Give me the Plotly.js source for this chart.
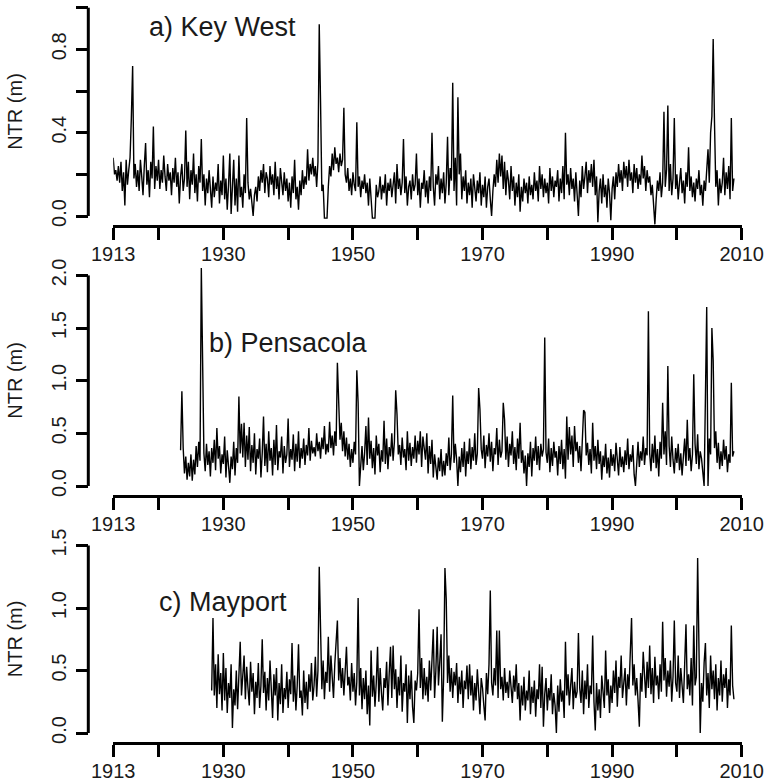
<!DOCTYPE html>
<html>
<head>
<meta charset="utf-8">
<script src="https://cdn.plot.ly/plotly-3.0.1.min.js"></script>
<style>html,body{margin:0;padding:0;background:#fff;}#chart{width:766px;height:782px;}</style>
</head>
<body>
<div id="chart"></div>
<script>
// ---------------- DATA (NTR in metres, one value every 0.2 yr) ----------------
const sampleStep = 0.2;
const keyWestStart = 1913.0;
const keyWest = [
0.28,0.20,0.22,0.17,0.24, 0.16,0.26,0.12,0.21,0.05, 0.27,0.15,0.22,0.28,0.47, 0.72,0.18,0.25,0.14,0.22,
0.12,0.27,0.19,0.10,0.24, 0.35,0.15,0.22,0.09,0.26, 0.18,0.43,0.13,0.24,0.17, 0.27,0.13,0.22,0.16,0.29,
0.19,0.12,0.25,0.17,0.21, 0.10,0.23,0.16,0.28,0.14, 0.21,0.06,0.19,0.25,0.12, 0.18,0.41,0.14,0.26,0.08,
0.22,0.15,0.30,0.11,0.20, 0.07,0.24,0.16,0.37,0.12, 0.20,0.05,0.18,0.11,0.22, 0.14,0.04,0.19,0.09,0.16,
0.12,0.25,0.06,0.17,0.10, 0.29,0.08,0.18,0.03,0.15, 0.30,0.01,0.12,0.27,0.05, 0.18,0.02,0.29,0.09,0.14,
0.04,0.20,0.11,0.47,0.16, 0.08,0.13,0.05,0.00,0.10, 0.14,0.07,0.19,0.12,0.22, 0.16,0.25,0.11,0.21,0.18,
0.09,0.24,0.15,0.20,0.10, 0.26,0.13,0.19,0.08,0.23, 0.15,0.10,0.21,0.12,0.18, 0.07,0.16,0.04,0.19,0.11,
0.27,0.08,0.14,0.03,0.17, 0.10,0.22,0.13,0.19,0.15, 0.32,0.17,0.25,0.20,0.28, 0.19,0.24,0.14,0.26,0.92,
0.55,0.12,0.15,-0.01,-0.01, -0.01,0.14,0.24,0.19,0.30, 0.22,0.33,0.25,0.28,0.21, 0.30,0.24,0.27,0.52,0.20,
0.16,0.23,0.12,0.18,0.10, 0.21,0.15,0.12,0.45,0.14, 0.19,0.09,0.17,0.13,0.20, 0.11,0.16,0.05,0.18,0.10,
-0.01,-0.01,-0.01,0.15,0.09, 0.12,0.19,0.08,0.15,0.11, 0.20,0.05,0.16,0.12,0.18, 0.09,0.14,0.21,0.06,0.25,
0.13,0.18,0.10,0.16,0.37, 0.11,0.19,0.05,0.14,0.17, 0.08,0.20,0.12,0.15,0.30, 0.10,0.18,0.04,0.16,0.13,
0.22,0.09,0.17,0.06,0.19, 0.12,0.40,0.14,0.05,0.20, 0.15,0.24,0.08,0.18,0.11, 0.21,0.06,0.16,0.38,0.10,
0.23,0.17,0.64,0.12,0.28, 0.05,0.57,0.20,0.30,0.08, 0.19,0.12,0.22,0.06,0.16, 0.10,0.18,0.04,0.20,0.13,
0.07,0.17,0.11,0.21,0.05, 0.15,0.09,0.19,0.04,0.14, 0.18,0.08,0.00,0.12,0.20, 0.14,0.27,0.16,0.30,0.19,
0.29,0.13,0.26,0.10,0.22, 0.17,0.08,0.24,0.12,0.19, 0.05,0.16,0.09,0.20,0.02, 0.14,0.07,0.18,0.11,0.16,
0.06,0.19,0.10,0.15,0.08, 0.21,0.12,0.17,0.07,0.24, 0.13,0.20,0.09,0.18,0.11, 0.16,0.06,0.23,0.12,0.19,
0.09,0.17,0.14,0.22,0.07, 0.18,0.11,0.24,0.08,0.40, 0.15,0.20,0.10,0.23,0.13, 0.18,0.07,0.21,0.12,0.00,
0.17,0.09,0.24,0.13,0.19, 0.26,0.11,0.22,0.16,0.25, 0.14,0.27,0.10,0.19,-0.03, 0.12,0.18,0.06,0.20,0.09,
0.15,0.04,0.18,0.11,-0.02, 0.13,0.19,0.08,0.21,0.14, 0.25,0.16,0.22,0.12,0.26, 0.18,0.24,0.14,0.27,0.17,
0.21,0.11,0.25,0.16,0.23, 0.13,0.20,0.15,0.29,0.18, 0.24,0.12,0.22,0.16,0.19, 0.10,0.15,0.03,-0.04,0.08,
0.17,0.12,0.21,0.09,0.16, 0.50,0.14,0.22,0.53,0.12, 0.25,0.10,0.18,0.47,0.13, 0.20,0.08,0.16,0.23,0.11,
0.17,0.06,0.21,0.14,0.33, 0.12,0.19,0.09,0.16,0.07, 0.18,0.13,0.22,0.10,0.15, 0.05,0.17,0.12,0.20,0.32,
0.16,0.40,0.48,0.85,0.45, 0.14,0.22,0.05,0.18,0.11, 0.16,0.28,0.10,0.21,0.13, 0.24,0.08,0.47,0.12,0.18
];
const pensacolaStart = 1923.4;
const pensacola = [
0.34,0.90,0.36,
0.12,0.28,0.06,0.22,0.09, 0.30,0.05,0.25,0.11,0.38, 0.18,0.42,0.24,2.07,1.29, 0.31,0.14,0.40,0.20,0.33,
0.09,0.36,0.22,0.44,0.15, 0.55,0.26,0.38,0.12,0.30, 0.21,0.47,0.08,0.34,0.19, 0.03,0.28,0.16,0.42,0.10,
0.36,0.22,0.85,0.31,0.59, 0.27,0.60,0.18,0.48,0.25, 0.56,0.14,0.39,0.22,0.50, 0.11,0.35,0.26,0.45,0.08,
0.31,0.66,0.19,0.40,0.13, 0.52,0.24,0.36,0.10,0.44, 0.20,0.58,0.15,0.33,0.27, 0.47,0.12,0.38,0.22,0.30,
0.64,0.18,0.35,0.25,0.49, 0.14,0.40,0.23,0.52,0.17, 0.36,0.26,0.45,0.20,0.39, 0.29,0.55,0.24,0.43,0.31,
0.37,0.28,0.50,0.33,0.42, 0.26,0.46,0.35,0.57,0.30, 0.40,0.32,0.61,0.36,0.48, 0.29,0.52,0.38,1.17,0.73,
0.44,0.60,0.33,0.52,0.28, 0.46,0.25,0.40,0.18,0.35, 0.22,0.42,0.30,1.10,0.79, 0.00,0.24,0.38,0.15,0.31,
0.57,0.20,0.65,0.26,0.43, 0.17,0.36,0.11,0.48,0.29, 0.40,0.13,0.34,0.23,0.62, 0.21,0.45,0.16,0.37,0.28,
0.50,0.24,0.42,0.91,0.68, 0.30,0.39,0.20,0.46,0.27, 0.35,0.15,0.52,0.24,0.41, 0.19,0.37,0.26,0.48,0.22,
0.43,0.30,0.52,0.18,0.47, 0.34,0.25,0.50,0.12,0.38, 0.21,0.44,0.08,0.30,0.16, 0.06,0.27,0.14,0.35,0.09,
0.24,0.10,0.31,0.19,0.46, 0.15,0.30,0.86,0.22,0.40, 0.25,0.00,0.28,0.13,0.36, 0.18,0.42,0.09,0.33,0.21,
0.45,0.16,0.37,0.24,0.50, 0.20,0.31,0.93,0.73,0.35, 0.26,0.48,0.17,0.39,0.28, 0.50,0.23,0.42,0.14,0.36,
0.30,0.55,0.20,0.44,0.27, 0.33,0.79,0.63,0.25,0.47, 0.18,0.40,0.29,0.52,0.21, 0.37,0.15,0.45,0.26,0.60,
0.22,0.34,0.12,0.29,0.00, 0.31,0.18,0.42,0.09,0.36, 0.24,0.47,0.20,0.38,0.15, 0.40,0.28,0.35,1.41,0.32,
0.22,0.45,0.13,0.36,0.19, 0.42,0.27,0.33,0.10,0.38, 0.21,0.44,0.16,0.35,0.07, 0.66,0.25,0.56,0.30,0.48,
0.18,0.57,0.33,0.42,0.22, 0.38,0.14,0.46,0.72,0.70, 0.29,0.41,0.20,0.35,0.12, 0.60,0.24,0.38,0.16,0.44,
0.21,0.33,0.06,0.29,0.18, 0.40,0.12,0.27,0.08,0.35, 0.19,0.30,0.14,0.41,0.22, 0.10,0.37,0.18,0.28,0.13,
0.34,0.20,0.45,0.16,0.30, 0.23,0.39,0.11,0.00,0.27, 0.42,0.18,0.33,0.24,0.47, 0.20,0.36,0.29,1.66,0.31,
0.14,0.40,0.22,0.48,0.17, 0.35,0.09,0.42,0.26,0.79, 0.30,0.52,0.20,1.14,0.38, 0.18,0.47,0.25,0.12,0.36,
0.22,0.40,0.15,0.31,0.10, 0.28,0.45,0.19,0.63,0.24, 0.36,0.14,0.30,1.06,0.40, 0.21,0.49,0.16,0.33,0.26,
0.10,0.00,0.84,1.70,0.00, 0.45,0.30,1.50,1.19,0.36, 0.52,0.22,0.41,0.16,0.33, 0.19,0.44,0.25,0.38,0.13,
0.30,0.22,0.98,0.28,0.33
];
const mayportStart = 1928.2;
const mayport = [
0.34,0.92,0.30,0.55,
0.20,0.63,0.31,0.48,0.18, 0.64,0.26,0.52,0.16,0.40, 0.28,0.55,0.04,0.35,0.22, 0.50,0.19,0.42,0.73,0.30,
0.45,0.62,0.27,0.53,0.36, 0.22,0.57,0.33,0.48,0.15, 0.41,0.28,0.56,0.20,0.38, 0.75,0.32,0.49,0.18,0.44,
0.26,0.58,0.35,0.12,0.47, 0.30,0.52,0.10,0.40,0.23, 0.55,0.16,0.36,0.27,0.49, 0.20,0.43,0.31,0.72,0.25,
0.46,0.18,0.38,0.71,0.28, 0.34,0.14,0.50,0.24,0.41, 0.19,0.47,0.33,0.56,0.26, 0.38,0.61,0.29,0.50,1.33,
0.84,0.35,0.58,0.27,0.49, 0.40,0.77,0.33,0.62,0.45, 0.28,0.55,0.75,0.90,0.42, 0.60,0.36,0.52,0.30,0.47,
0.69,0.38,0.45,0.26,0.56, 0.33,0.48,0.22,0.41,1.08, 0.30,0.52,0.19,0.44,0.27, 0.50,0.15,0.38,0.06,0.66,
0.29,0.46,0.21,0.40,0.69, 0.25,0.52,0.32,0.18,0.44, 0.36,0.57,0.22,0.48,0.69, 0.28,0.70,0.35,0.51,0.20,
0.45,0.30,0.62,0.17,0.40, 0.33,0.55,0.08,0.46,0.27, 0.50,0.21,0.08,0.42,0.34, 0.48,0.99,0.36,0.60,0.27,
0.52,0.30,0.45,0.25,0.58, 0.34,0.61,0.83,0.28,0.50, 0.85,0.38,0.57,0.79,0.09, 0.45,1.32,1.07,0.40,0.62,
0.33,0.52,0.28,0.49,0.38, 0.56,0.24,0.45,0.31,0.50, 0.20,0.42,0.35,0.54,0.27, 0.55,0.30,0.46,0.18,0.40,
0.26,0.51,0.33,0.15,0.44, 0.36,0.22,0.10,0.48,0.31, 0.55,1.14,0.40,0.30,0.52, 0.38,0.82,0.28,0.82,0.35,
0.45,0.26,0.52,0.32,0.41, 0.28,0.50,0.35,0.24,0.46, 0.33,0.55,0.27,0.40,0.10, 0.38,0.22,0.45,0.18,0.34,
0.26,0.50,0.15,0.37,0.24, 0.42,0.13,0.35,0.27,0.55, 0.20,0.53,0.05,0.31,0.44, 0.18,0.36,0.26,0.47,0.15,
0.32,0.22,0.00,0.38,0.17, 0.43,0.25,0.34,0.12,0.73, 0.30,0.47,0.22,0.38,0.52, 0.19,0.41,0.28,0.33,0.80,
0.36,0.24,0.50,0.15,0.42, 0.27,0.55,0.20,0.38,0.31, 0.78,0.25,0.02,0.40,0.18, 0.35,0.12,0.46,0.28,0.20,
0.66,0.30,0.43,0.16,0.38, 0.24,0.50,0.32,0.58,0.21, 0.45,0.36,0.62,0.28,0.40, 0.52,0.22,0.47,0.35,0.60,
0.92,0.38,0.55,0.30,0.44, 0.26,0.05,0.48,0.33,0.65, 0.40,0.28,0.57,0.36,0.70, 0.31,0.52,0.24,0.61,0.38,
0.46,0.27,0.55,0.33,0.89, 0.42,0.60,0.29,0.50,0.37, 0.58,0.25,0.45,0.90,0.40, 0.33,0.62,0.28,0.52,0.41,
0.24,0.55,0.87,0.35,0.47, 0.30,0.60,0.22,0.86,0.38, 0.45,1.40,0.85,0.00,0.40, 0.25,0.56,0.72,0.30,0.48,
0.20,0.62,0.35,0.50,0.27, 0.55,0.18,0.44,0.30,0.58, 0.25,0.47,0.36,0.52,0.20, 0.43,0.30,0.86,0.38,0.27
];
const panelTitles = ["a) Key West", "b) Pensacola", "c) Mayport"];
const yLabel = "NTR (m)";
const xTickVals = [1913,1920,1930,1940,1950,1960,1970,1980,1990,2000,2010];
const xTickText = ["1913","","1930","","1950","","1970","","1990","","2010"];
const yTickVals = [[0,0.2,0.4,0.6,0.8,1.0],[0,0.5,1.0,1.5,2.0],[0,0.5,1.0,1.5]];
const yTickText = [["0.0","","0.4","","0.8",""],["0.0","0.5","1.0","1.5","2.0"],["0.0","0.5","1.0","1.5"]];

// ---------------- LAYOUT GEOMETRY (pixels) ----------------
const W = 766, H = 782;
const xLeftPx = 113.2, xRightPx = 741.7, yAxisPx = 88.3;
const panels = [
  {zero:216.0, ppm:208.3, top:3,   bottom:225, ytop:1.0},
  {zero:486.0, ppm:105.3, top:264, bottom:495, ytop:2.0},
  {zero:733.0, ppm:125.0, top:524, bottom:742, ytop:1.5}
];
const series = [[keyWestStart, keyWest],[pensacolaStart, pensacola],[mayportStart, mayport]];

const FONT = "Liberation Sans, Arimo, Arial, Helvetica, sans-serif";
const traces = [];
const layout = {
  width: W, height: H, margin:{l:0,r:0,t:0,b:0},
  paper_bgcolor:'#fff', plot_bgcolor:'#fff', showlegend:false,
  font:{family:FONT, size:20, color:'#1a1a1a'},
  shapes:[], annotations:[]
};

panels.forEach((p, k) => {
  const n = k === 0 ? '' : String(k+1);
  const [start, vals] = series[k];
  const xs = vals.map((_, i) => +(start + i*sampleStep).toFixed(2));
  traces.push({
    type:'scatter', mode:'lines', x:xs, y:vals,
    xaxis:'x'+n, yaxis:'y'+n,
    line:{color:'#000', width:1.4}, hoverinfo:'skip'
  });
  const yMin = (p.zero - p.bottom)/p.ppm;
  const yMax = (p.zero - p.top)/p.ppm;
  layout['xaxis'+n] = {
    domain:[xLeftPx/W, xRightPx/W], range:[1913,2010], anchor:'y'+n,
    showline:true, linewidth:3, linecolor:'#000', mirror:false,
    showgrid:false, zeroline:false,
    ticks:'outside', ticklen:12, tickwidth:3, tickcolor:'#000',
    tickmode:'array', tickvals:xTickVals, ticktext:xTickText,
    tickfont:{family:FONT, size:20, color:'#1a1a1a'}, ticklabelstandoff:-3
  };
  layout['yaxis'+n] = {
    domain:[1 - p.bottom/H, 1 - p.top/H], range:[yMin, yMax],
    anchor:'free', position:yAxisPx/W, showline:false,
    showgrid:false, zeroline:false,
    ticks:'outside', ticklen:12, tickwidth:3, tickcolor:'#000',
    tickmode:'array', tickvals:yTickVals[k], ticktext:yTickText[k],
    tickangle:-90, tickfont:{family:FONT, size:20, color:'#1a1a1a'}, ticklabelstandoff:2
  };
  layout.shapes.push({type:'line', xref:'paper', yref:'y'+n,
    x0:yAxisPx/W, x1:yAxisPx/W, y0:0, y1:p.ytop, line:{color:'#000', width:3}});
  layout.annotations.push({xref:'paper', yref:'paper', x:15/W, y:1-((p.zero + (p.zero - p.ytop*p.ppm))/2)/H,
    text:yLabel, textangle:-90, showarrow:false, xanchor:'center', yanchor:'middle',
    font:{family:FONT, size:20, color:'#1a1a1a'}});
});
const titlePos = [[147, 27],[207, 343],[157, 602]];
panelTitles.forEach((t, k) => {
  layout.annotations.push({xref:'paper', yref:'paper', x:titlePos[k][0]/W, y:1-titlePos[k][1]/H,
    text:t, showarrow:false, xanchor:'left', yanchor:'middle',
    font:{family:FONT, size:27, color:'#1a1a1a'}});
});

Plotly.newPlot('chart', traces, layout, {staticPlot:true, displayModeBar:false});
</script>
</body>
</html>
